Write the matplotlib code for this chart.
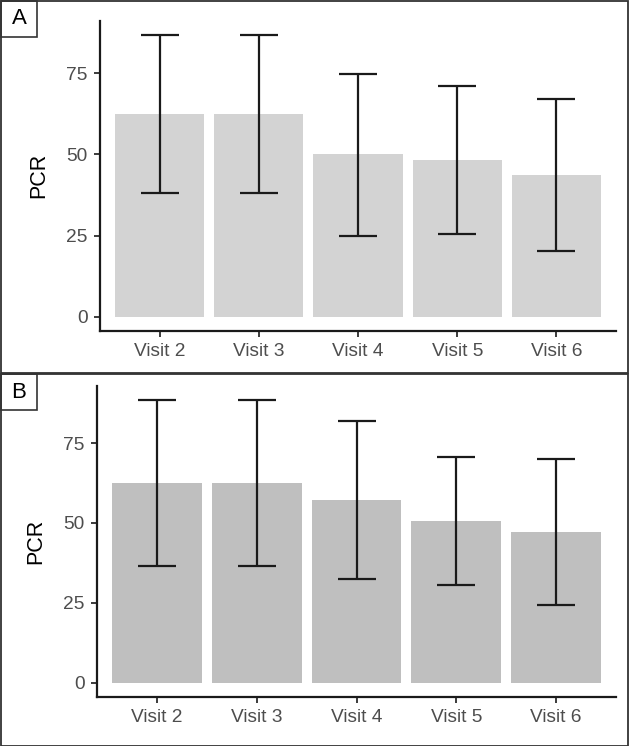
import matplotlib.pyplot as plt
from matplotlib.patches import Rectangle

visits = ['Visit 2', 'Visit 3', 'Visit 4', 'Visit 5', 'Visit 6']

pcr_a = [62.5, 62.5, 50.0, 48.2, 43.7]
lo_a = [38.0, 38.0, 24.9, 25.5, 20.4]
hi_a = [86.8, 86.8, 74.7, 71.2, 67.0]

pcr_b = [62.5, 62.5, 57.2, 50.7, 47.3]
lo_b = [36.5, 36.5, 32.5, 30.6, 24.3]
hi_b = [88.6, 88.6, 81.8, 70.8, 70.1]

W, H = 629, 746
plt.rcParams['font.family'] = ['Liberation Sans', 'DejaVu Sans']

fig = plt.figure(figsize=(W / 100, H / 100), dpi=100)


def panel(rect_px, vals, lo, hi, color, label, y0):
    # rect_px = (left, top, right, bottom) in pixels from top-left
    l, t, r, b = rect_px
    ax = fig.add_axes([l / W, 1 - b / H, (r - l) / W, (b - t) / H])
    x = list(range(len(vals)))
    ax.bar(x, vals, width=0.9, color=color, zorder=1)
    yerr = [[v - a for v, a in zip(vals, lo)], [c - v for v, c in zip(vals, hi)]]
    ax.errorbar(x, vals, yerr=yerr, fmt='none', ecolor='#1a1a1a',
                elinewidth=1.6, capsize=13.7, capthick=1.6, zorder=2)
    top = max(hi)
    ax.set_ylim(-0.05 * top, 1.05 * top)
    ax.set_xlim(-0.6, len(vals) - 0.4)
    ax.set_yticks([0, 25, 50, 75])
    ax.set_xticks(x)
    ax.set_xticklabels(visits)
    for s in ['top', 'right']:
        ax.spines[s].set_visible(False)
    for s in ['left', 'bottom']:
        ax.spines[s].set_linewidth(1.6)
        ax.spines[s].set_color('#1a1a1a')
    ax.tick_params(length=4, width=1.2, color='#1a1a1a', labelcolor='#4d4d4d',
                   labelsize=13.8)
    ax.tick_params(axis='y', pad=5)
    ax.tick_params(axis='x', pad=5)
    ax.set_ylabel('PCR', fontsize=15.5, color='black', labelpad=12)

    # panel frame and letter box
    fig.patches.append(Rectangle((1 / W, 1 - (y0 + 373) / H), 626.5 / W, 372 / H,
                                 transform=fig.transFigure, fill=False,
                                 edgecolor='#333333', linewidth=1.3))
    fig.patches.append(Rectangle((1 / W, 1 - (y0 + 37) / H), 36 / W, 36 / H,
                                 transform=fig.transFigure, fill=False,
                                 edgecolor='#333333', linewidth=1.2))
    fig.text(19 / W, 1 - (y0 + 19) / H, label, ha='center', va='center',
             fontsize=16, color='black')
    return ax


panel((100, 20.7, 616, 331), pcr_a, lo_a, hi_a, '#d3d3d3', 'A', 0)
panel((97, 385.6, 616, 696.7), pcr_b, lo_b, hi_b, '#bfbfbf', 'B', 373)

fig.savefig('out.png', dpi=100)
